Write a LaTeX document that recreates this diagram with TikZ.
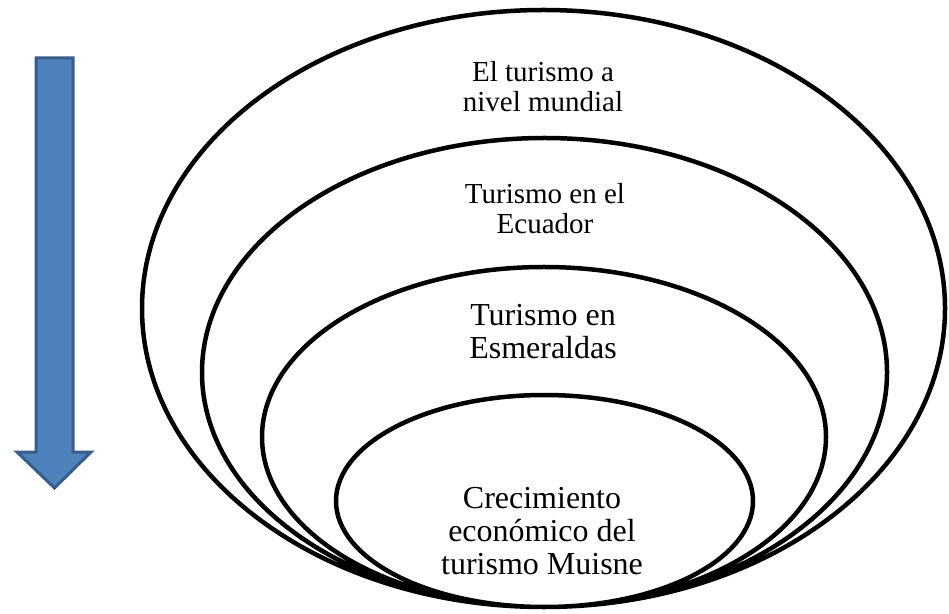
\documentclass[tikz,border=0pt]{standalone}
\usepackage{fontspec}
\setmainfont{Liberation Serif}
\usepackage{xcolor}
\usetikzlibrary{
    calc,
    positioning
}
\definecolor{arrowfill}{HTML}{4F81BD}
\definecolor{arrowline}{HTML}{385D8A}
\tikzset{
    ring/.style={draw=black, line width=4.5pt},
    ringlabel/.style={align=center, inner sep=0pt, font=\fontsize{29}{30}\selectfont},
    biglabel/.style={ringlabel, font=\fontsize{32}{33}\selectfont}
}

\begin{document}
\begin{tikzpicture}[x=1pt, y=1pt]
                        \useasboundingbox (0, 0) rectangle (949, 613);

                        \draw[ring]
                        (543.5, 304.5) ellipse [x radius=401.5, y radius=298.5]
                        (544.5, 240.5) ellipse [x radius=342.5, y radius=234.5]
                        (544, 176) ellipse [x radius=282, y radius=170]
                        (544.5, 112) ellipse [x radius=208.5, y radius=106];

                        \begin{scope}
                            \draw[fill=arrowfill, draw=arrowline, line width=3pt, line join=miter]
                            (36, 555) -- (73, 555) -- (73, 161) -- (91, 161)
                            -- (54.5, 125) -- (17, 161) -- (36, 161) -- cycle;
                        \end{scope}

                        \node[ringlabel] (world) at (543, 526) {El turismo a\\nivel mundial};
                        \node[ringlabel] (ecuador) at (545, 404) {Turismo en el\\Ecuador};
                        \node[biglabel] (esmeraldas) at (543, 281) {Turismo en\\Esmeraldas};
                        \node[biglabel] (muisne) at (542, 82) {Crecimiento\\econ\'omico del\\turismo Muisne};
                    \end{tikzpicture}
\end{document}
